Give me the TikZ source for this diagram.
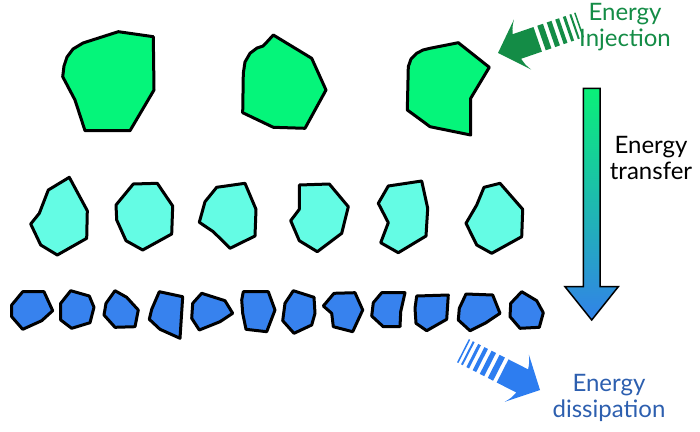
\documentclass[tikz,border=0pt]{standalone}
\usepackage{fontspec}
\setmainfont{Lato}
\definecolor{rockgreen}{RGB}{5,245,122}
\definecolor{rockcyan}{RGB}{100,252,228}
\definecolor{rockblue}{RGB}{55,130,238}
\definecolor{injgreen}{RGB}{20,140,70}
\definecolor{dissblue}{RGB}{45,125,240}
\definecolor{disstext}{RGB}{45,95,175}
\definecolor{trtop}{RGB}{10,240,120}
\definecolor{trbot}{RGB}{50,130,232}
\newcommand\myStripedArrow[1]{%
  \fill[#1] (0,0) -- (26,26.5) .. controls (22,20) .. (20,13) -- (42,13) -- (42,-13) -- (20,-13) .. controls (22,-20) .. (26,-26.5) -- cycle;
  \foreach \a/\b in {46/52,56/61,65/69,73/76,80/82,85/86.5}
    \fill[#1] (\a,-13) rectangle (\b,13);
}
\begin{document}
\begin{tikzpicture}[x=1pt,y=-1pt,
  rock/.style={draw=black,line width=3pt,line join=round},
  g/.style={rock,fill=rockgreen},
  c/.style={rock,fill=rockcyan},
  b/.style={rock,fill=rockblue},
  lbl/.style={font=\fontsize{24}{26}\selectfont,align=center,inner sep=0pt}]
\useasboundingbox (0,0) rectangle (700,431);
% big green rocks
\draw[g] (62.7,76.7) -- (64,66) -- (67,57) -- (73,49) -- (83,43) -- (118.3,31.7) -- (153.3,36.7) -- (154,90) -- (130,130.7) -- (85,130.7) -- (75,100) -- cycle;
\draw[g] (273.3,35) -- (311.7,58.3) -- (326,90) -- (305,128.3) -- (273.3,127.3) -- (242.7,112.7) -- (243.3,73.3) -- (245,62) -- (250,53.3) -- (257,48) -- (263,46) -- (266,43) -- cycle;
\draw[g] (407.3,110) -- (408.3,66.7) -- (411,59) -- (416.7,53.3) -- (423,50) -- (430,48.3) -- (458.3,42.7) -- (489.3,67.3) -- (470.7,98.3) -- (470.7,135) -- (430,126.7) -- (423.3,121.7) -- cycle;
% cyan rocks
\draw[c] (69.3,177.3) -- (87.3,210.7) -- (86.7,238.3) -- (57.3,255) -- (40.7,245) -- (30.7,224) -- (39.3,213.3) -- (48.3,190) -- cycle;
\draw[c] (133.3,184) -- (157.3,183.3) -- (172.7,206) -- (171.7,234) -- (142.7,250) -- (126,240.7) -- (116.7,220) -- (116,205) -- cycle;
\draw[c] (216.7,187.3) -- (245,183.3) -- (256,209.3) -- (255,236) -- (230,248.3) -- (213.3,231.7) -- (199.3,222.3) -- (205,201.7) -- cycle;
\draw[c] (299.3,185) -- (329.3,184) -- (348.3,206.7) -- (341.7,233.3) -- (317.3,251.7) -- (299.3,240.7) -- (290.7,220.7) -- (299.3,209.3) -- cycle;
\draw[c] (388.3,186) -- (421.7,181) -- (427.7,208.3) -- (426,236) -- (398.3,252.7) -- (380.7,242.7) -- (388.3,222.7) -- (378.3,203.3) -- cycle;
\draw[c] (484,187.3) -- (500,183.3) -- (522.7,209.3) -- (521.7,236.7) -- (491.7,253.3) -- (476.7,245) -- (466,223.3) -- (476.7,205) -- cycle;
% blue rocks
\draw[b] (22.7,291.7) -- (44,291.7) -- (52.7,310.7) -- (41.7,320.7) -- (22.7,329.3) -- (11.7,316.7) -- (11.7,305) -- cycle;
\draw[b] (70.7,290.7) -- (89.3,296) -- (94,307.3) -- (90,322.7) -- (71.7,328.3) -- (60.7,320) -- (60.7,303.3) -- cycle;
\draw[b] (115,290.7) -- (126.7,297.3) -- (138.3,310) -- (135,326.7) -- (115,327.3) -- (104,315) -- (106,303.3) -- cycle;
\draw[b] (159.3,291.7) -- (182.7,296.7) -- (180,338.3) -- (160,329.3) -- (149.3,319.3) -- (151.7,309.3) -- cycle;
\draw[b] (201.7,293.3) -- (225,300.7) -- (232.7,313.3) -- (220,321.7) -- (199.3,330) -- (191.7,318.3) -- (192.7,303.3) -- cycle;
\draw[b] (243.3,291.7) -- (268.3,291.7) -- (275,310) -- (266.7,331.7) -- (246,329.3) -- (242.7,313.3) -- (241.7,300) -- cycle;
\draw[b] (293.3,290.7) -- (314,297.3) -- (315,313.3) -- (311.7,325) -- (294,333.3) -- (282.7,320.7) -- (285,303.3) -- cycle;
\draw[b] (334,293.3) -- (355,292.7) -- (362.7,310) -- (352.7,331.7) -- (333.3,326.7) -- (331.7,313.3) -- (323.3,306) -- cycle;
\draw[b] (381.7,292.7) -- (405,292.7) -- (400.7,311.7) -- (400,326.7) -- (383.3,326.7) -- (371.7,316) -- (373.3,302.7) -- cycle;
\draw[b] (416.7,296) -- (448.3,295) -- (446.7,319.3) -- (426.7,330.7) -- (416,323.3) -- (415,308.3) -- cycle;
\draw[b] (466,294) -- (492.7,295) -- (500,313.3) -- (486,322.7) -- (470,330.7) -- (458.3,320) -- (459.3,308.3) -- cycle;
\draw[b] (521.7,291.7) -- (536.7,300.7) -- (543.3,312.7) -- (539.3,327.3) -- (520,328.3) -- (510,316.7) -- (510.7,303.3) -- cycle;
% energy transfer arrow
\shade[top color=trtop,bottom color=trbot] (583.3,88.3) -- (600,88.3) -- (600,286.7) -- (618.3,286.7) -- (591.7,320) -- (565,286.7) -- (583.3,286.7) -- cycle;
\draw[line width=1.5pt,line join=miter] (583.3,88.3) -- (600,88.3) -- (600,286.7) -- (618.3,286.7) -- (591.7,320) -- (565,286.7) -- (583.3,286.7) -- cycle;
% injection and dissipation arrows
\begin{scope}[shift={(498,53)},rotate=19]
  \myStripedArrow{injgreen}
\end{scope}
\begin{scope}[shift={(540,390)},rotate=153]
  \myStripedArrow{dissblue}
\end{scope}
% labels
\node[lbl,text=injgreen] (inj) at (625,27) {Energy\\Injection};
\node[lbl,text=black] (tr) at (651,158) {Energy\\transfer};
\node[lbl,text=disstext] (dis) at (609,398) {Energy\\dissipation};
\end{tikzpicture}
\end{document}
